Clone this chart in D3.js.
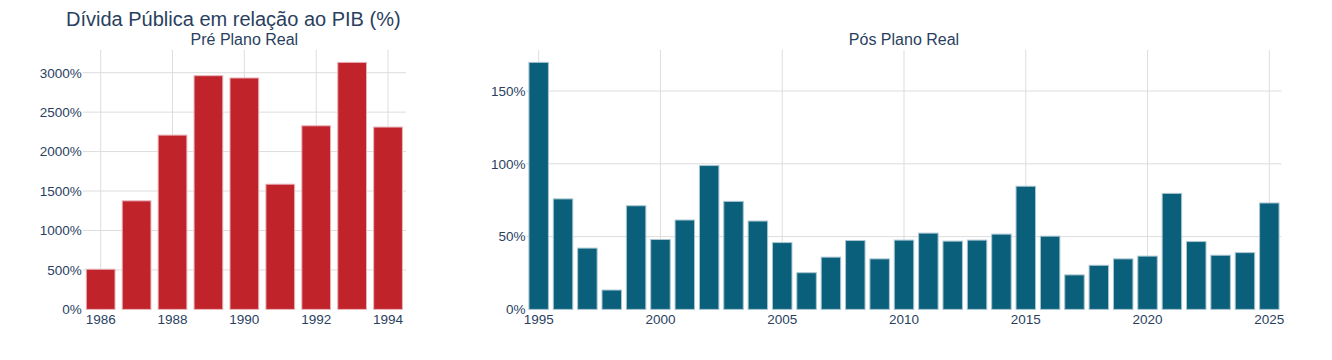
<!DOCTYPE html>
<html>
<head>
<meta charset="utf-8">
<script src="https://cdn.jsdelivr.net/npm/d3@7"></script>
<style>
  body { margin: 0; background: #fff; }
  svg text { font-family: "Liberation Sans", Arial, sans-serif; fill: #2a3f5f; }
</style>
</head>
<body>
<div id="chart"></div>
<script>
// pre plano real
var preYears = [1986, 1987, 1988, 1989, 1990, 1991, 1992, 1993, 1994];
var preValues = [509, 1376, 2209, 2962, 2933, 1587, 2327, 3131, 2311];
var preTicksX = [1986, 1988, 1990, 1992, 1994];
var preTicksY = [0, 500, 1000, 1500, 2000, 2500, 3000];

// pos plano real
var posYears = [1995, 1996, 1997, 1998, 1999, 2000, 2001, 2002, 2003, 2004, 2005, 2006, 2007, 2008, 2009, 2010,
    2011, 2012, 2013, 2014, 2015, 2016, 2017, 2018, 2019, 2020, 2021, 2022, 2023, 2024, 2025];
var posValues = [169.7, 75.9, 42.1, 13.3, 71.2, 48.0, 61.4, 98.8, 74.2, 60.7, 45.9, 25.2, 35.9, 47.3, 34.7, 47.6,
    52.4, 46.9, 47.6, 51.7, 84.6, 50.3, 23.7, 30.3, 34.7, 36.6, 79.7, 46.6, 37.2, 39.0, 73.1];
var posTicksX = [1995, 2000, 2005, 2010, 2015, 2020, 2025];
var posTicksY = [0, 50, 100, 150];

var svg = d3.select("#chart").append("svg")
    .attr("width", 1332)
    .attr("height", 360);

svg.append("text")
    .attr("x", 66)
    .attr("y", 26)
    .attr("font-size", 20)
    .text("Dívida Pública em relação ao PIB (%)");

function drawPanel(years, values, ticksX, ticksY, left, right, color, outline, subtitle) {
    var top = 50, bottom = 309.4;

    var x = d3.scaleBand()
        .domain(years)
        .range([left, right])
        .paddingInner(0.2)
        .paddingOuter(0.1);
    var y = d3.scaleLinear()
        .domain([0, d3.max(values) * 1.05])
        .range([bottom, top]);

    var g = svg.append("g");

    // grid
    g.selectAll(".gy")
        .data(ticksY.filter(function(d) { return d > 0; }))
        .enter().append("line")
        .attr("x1", left).attr("x2", right)
        .attr("y1", function(d) { return y(d); })
        .attr("y2", function(d) { return y(d); })
        .attr("stroke", "#dddddd").attr("stroke-width", 1);
    g.selectAll(".gx")
        .data(ticksX)
        .enter().append("line")
        .attr("x1", function(d) { return x(d) + x.bandwidth() / 2; })
        .attr("x2", function(d) { return x(d) + x.bandwidth() / 2; })
        .attr("y1", top).attr("y2", bottom)
        .attr("stroke", "#dddddd").attr("stroke-width", 1);

    // bars
    g.selectAll("rect")
        .data(values)
        .enter().append("rect")
        .attr("x", function(d, i) { return x(years[i]); })
        .attr("y", function(d) { return y(d); })
        .attr("width", x.bandwidth())
        .attr("height", function(d) { return bottom - y(d); })
        .attr("fill", color)
        .attr("stroke", outline)
        .attr("stroke-width", 1);

    // axes
    var ax = g.append("g")
        .attr("transform", "translate(0," + bottom + ")")
        .call(d3.axisBottom(x).tickValues(ticksX).tickSize(0).tickPadding(5).tickFormat(d3.format("d")));
    ax.select(".domain").remove();
    ax.selectAll("text").attr("font-size", 13.5).attr("fill", "#2a3f5f");

    var ay = g.append("g")
        .attr("transform", "translate(" + (left - 1) + ",0)")
        .call(d3.axisLeft(y).tickValues(ticksY).tickSize(0).tickPadding(0).tickFormat(function(d) { return d + "%"; }));
    ay.select(".domain").remove();
    ay.selectAll("text").attr("font-size", 13.5).attr("fill", "#2a3f5f");

    g.append("text")
        .attr("x", (left + right) / 2)
        .attr("y", 44.5)
        .attr("text-anchor", "middle")
        .attr("font-size", 16)
        .text(subtitle);
}

drawPanel(preYears, preValues, preTicksX, preTicksY, 82.7, 406, "#c0232a", "#e8b5bb", "Pré Plano Real");
drawPanel(posYears, posValues, posTicksX, posTicksY, 526.5, 1281.5, "#0a607a", "#a9c6d2", "Pós Plano Real");
</script>
</body>
</html>
